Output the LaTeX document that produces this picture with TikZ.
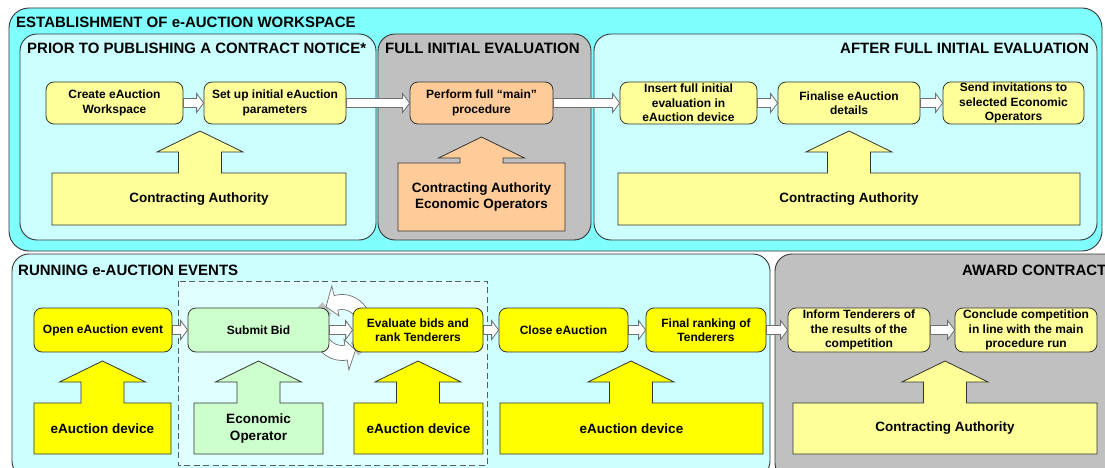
\documentclass[tikz,border=0pt]{standalone}
\usepackage{fontspec}
\setmainfont{Liberation Sans}
\usetikzlibrary{calc}
\definecolor{outercyan}{HTML}{80FFFF}
\definecolor{innercyan}{HTML}{CCFFFF}
\definecolor{secgray}{HTML}{C0C0C0}
\definecolor{orangefill}{HTML}{FFCC99}
\definecolor{lyellow}{HTML}{FFFF99}
\definecolor{yyellow}{HTML}{FFFF00}
\definecolor{lgreen}{HTML}{CCFFCC}
\definecolor{dashfill}{HTML}{E0FFFF}
\definecolor{edge}{HTML}{333333}
\definecolor{arredge}{HTML}{707070}

\newcommand\harrow[2]{%
  \draw[harr] ($(#1.east)+(0,-4.5)$) -- ($(#2.west)+(-7,-4.5)$) -- ($(#2.west)+(-7,-9.5)$)
    -- (#2.west) -- ($(#2.west)+(-7,9.5)$) -- ($(#2.west)+(-7,4.5)$) -- ($(#1.east)+(0,4.5)$) -- cycle;}
% style, x1, x2, y1, y2, cx, headbase, name, text
\newcommand\callout[9]{%
  \draw[callshape,#1] (#2,#4) -- ({#6-21.5},#4) -- ({#6-21.5},#7) -- ({#6-43},#7) -- (#6,{#7-21})
    -- ({#6+43},#7) -- ({#6+21.5},#7) -- ({#6+21.5},#4) -- (#3,#4) -- (#3,#5) -- (#2,#5) -- cycle;
  \node[calltext] (#8) at ({(#2+#3)/2},{(#4+#5)/2}) {#9};}

\tikzset{
  secbox/.style={draw=edge, line width=0.9, rounded corners=17},
  sectitle/.style={font=\fontsize{15}{18}\selectfont\bfseries, inner sep=0},
  proc/.style={draw=edge, line width=0.8, rounded corners=8, align=center,
    font=\fontsize{12}{14.5}\selectfont\bfseries, inner sep=1},
  harr/.style={draw=arredge, fill=white, line width=0.8},
  circarr/.style={draw=arredge, fill=white, line width=0.7},
  callshape/.style={draw=edge, line width=0.8},
  calltext/.style={align=center, font=\fontsize{13.5}{16.5}\selectfont\bfseries, inner sep=0},
}

\begin{document}
\begin{tikzpicture}[x=1pt,y=-1pt]
\clip (0,0) rectangle (1105,468);
\fill[white] (0,0) rectangle (1105,468);

% upper section
\draw[secbox, fill=outercyan, rounded corners=20] (9,8) rectangle (1102,251);
\node[sectitle, anchor=base west] (t0) at (16,28) {ESTABLISHMENT OF e-AUCTION WORKSPACE};
\draw[secbox, fill=innercyan] (20,34) rectangle (376,240);
\node[sectitle, anchor=base west] (t1) at (27,54) {PRIOR TO PUBLISHING A CONTRACT NOTICE*};
\draw[secbox, fill=secgray] (378,34) rectangle (591,240);
\node[sectitle, anchor=base west] (t2) at (385,54) {FULL INITIAL EVALUATION};
\draw[secbox, fill=innercyan] (594,34) rectangle (1097,240);
\node[sectitle, anchor=base east] (t3) at (1089,54) {AFTER FULL INITIAL EVALUATION};

% lower section
\draw[secbox, fill=innercyan] (12,254) rectangle (770,478);
\node[sectitle, anchor=base west] (t4) at (18,275) {RUNNING e-AUCTION EVENTS};
\draw[secbox, fill=secgray] (775,254) rectangle (1125,480);
\node[sectitle, anchor=base west] (t5) at (962,275) {AWARD CONTRACT};
\draw[draw=edge!80, fill=dashfill, line width=0.8, dash pattern=on 6pt off 3.5pt] (178,281) rectangle (487,465);

% circular arrows
\begin{scope}[shift={(342,327.5)}, yscale=-1, xscale=0.92]
  \fill[gray!50] (130:18) arc[start angle=130, end angle=178, radius=18] -- (178:33) arc[start angle=178, end angle=130, radius=33] -- cycle;
  \fill[gray!50] (302:18) arc[start angle=302, end angle=345, radius=18] -- (345:33) arc[start angle=345, end angle=302, radius=33] -- cycle;
  \draw[circarr] (15:33) arc[start angle=15, end angle=105, radius=33] -- (105:43) -- (130:27) -- (105:12) -- (105:18) arc[start angle=105, end angle=15, radius=18] -- cycle;
  \draw[circarr] (195:33) arc[start angle=195, end angle=280, radius=33] -- (280:43) -- (303:27) -- (280:12) -- (280:18) arc[start angle=280, end angle=195, radius=18] -- cycle;
\end{scope}

% row 1 process boxes
\node[proc, fill=lyellow, minimum width=137, minimum height=42] (create) at (114.5,103) {Create eAuction\\Workspace};
\node[proc, fill=lyellow, minimum width=142, minimum height=42] (setup) at (275,103) {Set up initial eAuction\\parameters};
\node[proc, fill=orangefill, minimum width=143, minimum height=42] (perform) at (481.5,103) {Perform full “main”\\procedure};
\node[proc, fill=lyellow, minimum width=137, minimum height=42] (insert) at (688.5,103) {Insert full initial\\evaluation in\\eAuction device};
\node[proc, fill=lyellow, minimum width=142, minimum height=42] (finalise) at (849,103) {Finalise eAuction\\details};
\node[proc, fill=lyellow, minimum width=141, minimum height=42] (send) at (1013.5,103) {Send invitations to\\selected Economic\\Operators};

% row 2 process boxes
\node[proc, fill=yyellow, minimum width=138, minimum height=44] (open) at (103,330) {Open eAuction event};
\node[proc, fill=lgreen, minimum width=141, minimum height=44] (submit) at (258.5,330) {Submit Bid};
\node[proc, fill=yyellow, minimum width=130, minimum height=44] (evaluate) at (418,330) {Evaluate bids and\\rank Tenderers};
\node[proc, fill=yyellow, minimum width=129, minimum height=44] (close) at (563.5,330) {Close eAuction};
\node[proc, fill=yyellow, minimum width=120, minimum height=44] (final) at (706,330) {Final ranking of\\Tenderers};
\node[proc, fill=lyellow, minimum width=142, minimum height=44] (inform) at (859,330) {Inform Tenderers of\\the results of the\\competition};
\node[proc, fill=lyellow, minimum width=142, minimum height=44] (conclude) at (1026,330) {Conclude competition\\in line with the main\\procedure run};

% connectors
\harrow{create}{setup}
\harrow{setup}{perform}
\harrow{perform}{insert}
\harrow{insert}{finalise}
\harrow{finalise}{send}
\harrow{open}{submit}
\harrow{submit}{evaluate}
\harrow{evaluate}{close}
\harrow{close}{final}
\harrow{final}{inform}
\harrow{inform}{conclude}

% callouts
\callout{fill=lyellow}{52}{346}{173}{225}{200}{152}{ca1}{Contracting Authority}
\callout{fill=orangefill}{398}{565}{163}{231}{481.5}{158}{ca2}{Contracting Authority\\Economic Operators}
\callout{fill=lyellow}{618}{1080}{173}{225}{849}{152}{ca3}{Contracting Authority}
\callout{fill=yyellow}{34}{171}{403}{454}{102.5}{382}{dev1}{eAuction device}
\callout{fill=lgreen}{194}{323}{403}{454}{258.5}{382}{eo}{Economic\\Operator}
\callout{fill=yyellow}{354}{483}{403}{454}{418}{382}{dev2}{eAuction device}
\callout{fill=yyellow}{500}{763}{403}{454}{631}{382}{dev3}{eAuction device}
\callout{fill=lyellow}{793}{1097}{403}{454}{945}{382}{ca4}{Contracting Authority}
\end{tikzpicture}
\end{document}
